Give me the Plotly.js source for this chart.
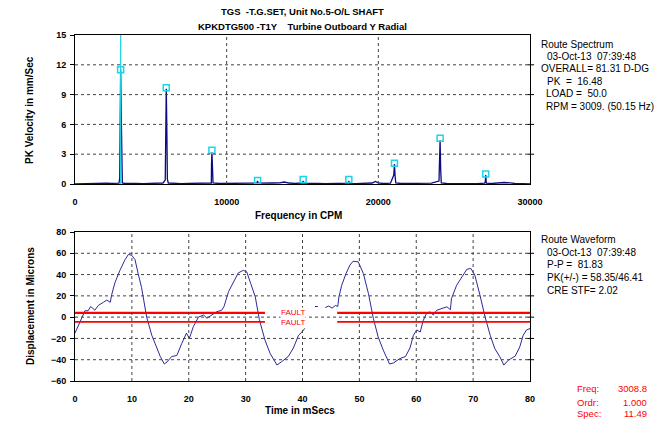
<!DOCTYPE html>
<html>
<head>
<meta charset="utf-8">
<script src="https://cdn.plot.ly/plotly-3.0.1.min.js"></script>
<style>html,body{margin:0;padding:0;background:#fff;}#chart{width:668px;height:421px;}</style>
</head>
<body>
<div id="chart"></div>
<script>
// ---------- Spectrum data (CPM, mm/sec) ----------
const specFreq = [0,300,600,900,1200,1500,1800,2100,2400,2700,2900,2950,2975,3009,3045,3080,3120,3300,3600,4000,4500,5000,5500,5800,5950,5985,6018,6050,6090,6150,6500,7000,7500,8000,8500,8990,9000,9027,9060,9100,9500,10000,10500,11000,11500,12000,12036,12070,12500,13000,13500,13800,14100,14500,15000,15045,15080,15500,16000,16500,17000,17500,18000,18054,18090,18500,19000,19600,19800,20000,20300,20800,21020,21063,21100,21150,21500,22000,22500,23000,23500,24000,24040,24072,24110,24150,24500,25000,25500,26000,26500,27000,27050,27081,27120,27500,28000,28300,28700,29000,29500,30000];
const specAmp  = [0,0.02,0.03,0.02,0.05,0.08,0.1,0.08,0.06,0.05,0.08,0.6,4.5,11.49,7.5,2.6,0.1,0.05,0.08,0.06,0.04,0.05,0.08,0.1,0.4,8.5,9.6,6.2,0.5,0.1,0.05,0.04,0.06,0.05,0.08,0.1,1.9,3.2,1.9,0.1,0.05,0.04,0.06,0.05,0.08,0.1,0.3,0.08,0.06,0.1,0.12,0.2,0.1,0.06,0.1,0.3,0.08,0.04,0.05,0.03,0.06,0.04,0.08,0.3,0.06,0.04,0.05,0.1,0.25,0.12,0.05,0.08,0.9,2.0,0.9,0.1,0.05,0.04,0.06,0.05,0.08,0.3,2.0,4.4,1.5,0.1,0.05,0.04,0.06,0.05,0.04,0.08,0.2,0.9,0.08,0.05,0.12,0.15,0.12,0.05,0.03,0.02];
// harmonic markers
const markFreq = [3009,6018,9027,12036,15045,18054,21063,24072,27081];
const markAmp  = [11.49,9.7,3.4,0.35,0.45,0.45,2.1,4.6,1.0];
const cursorFreq = 3009;

// ---------- Waveform data (mSecs, microns) ----------
const wfTime = [0,0.7,1.75,2.3,2.75,3.5,4.1,5.0,5.6,6.2,6.45,7.0,7.9,8.8,9.4,10.0,10.55,11.1,11.7,12.6,13.5,14.1,15.0,15.7,16.2,17.0,17.9,18.75,19.6,20.1,20.8,21.7,22.6,23.2,24.0,24.9,25.8,26.2,27.0,27.9,28.7,29.6,30.2,30.9,31.7,32.4,33.4,34.3,35.5,36.3,37.5,38.4,39.3,39.9,40.4,41.3,42.2,42.7,43.3,44.0,44.6,45.2,45.8,46.2,46.4,46.9,47.65,48.35,48.9,49.8,50.7,51.6,52.45,53.3,54.2,55.3,56.0,57.1,58.1,58.9,59.5,60.1,60.7,61.2,61.8,62.4,63.0,63.6,64.5,65.4,66.0,66.2,67.1,68.0,68.9,69.6,70.3,71.2,72.1,73.0,73.8,74.7,75.4,76.2,77.4,78.2,78.8,79.4,80];
const wfDisp = [-15,-6,6,6,10,6.5,11,14,16,14,21,32,44,54,59,58,54,41,28,0,-17,-25,-37,-44,-42,-37,-36,-25,-15,-20,-9,0,2,-1,2,5,6.5,10,24,33,41.5,44,42.5,31.5,19,-2,-21.5,-34,-45,-42,-37,-29,-17,-14,-10.5,null,10,10,null,9,10.5,8.5,11,10,19,30,41,49,52.5,52,41,22,-1,-18.5,-31,-44,-43,-39,-37,-29,-17,-12,-14,-3.5,3.5,5,2,6.5,8,9.7,7,17.5,30,38,45,45.7,39.5,20.7,0.3,-17,-29.4,-37.3,-45,-40.4,-36.6,-28,-17,-12,-10.7];

// fault limit bands
const faultLevels = [4.0,-4.4];
const faultSegA = [0,33.4];
const faultSegB = [46.1,80];
const faultText = "FAULT";

// ---------- tick values ----------
const specXTicks = [0,10000,20000,30000];
const specYTicks = [0,3,6,9,12,15];
const wfXTicks = [0,10,20,30,40,50,60,70,80];
const wfYTicks = [-60,-40,-20,0,20,40,60,80];

// ---------- texts ----------
const titleLines = ["TGS  -T.G.SET, Unit No.5-O/L SHAFT","KPKDTG500 -T1Y    Turbine Outboard Y Radial"];
const specInfo = ["Route Spectrum","03-Oct-13  07:39:48","OVERALL= 81.31 D-DG","PK  =  16.48","LOAD =  50.0","RPM = 3009. (50.15 Hz)"];
const waveInfo = ["Route Waveform","03-Oct-13  07:39:48","P-P =  81.83","PK(+/-) = 58.35/46.41","CRE STF= 2.02"];
const cursorLabels = ["Freq:","Ordr:","Spec:"];
const cursorValues = ["3008.8","1.000","11.49"];

// ---------- geometry helpers ----------
const L=75,R=530,T=35,B=381;
const px = x => (x-L)/(R-L);
const py = y => (B-y)/(B-T);

const FONT = "Liberation Sans, Arial, sans-serif";
const gridLine = {color:'#444',width:1,dash:'dot'};

const traces = [
  {x:specFreq,y:specAmp,type:'scatter',mode:'lines',line:{color:'#0a0a85',width:1.3},xaxis:'x',yaxis:'y'},
  {x:markFreq,y:markAmp,type:'scatter',mode:'markers',marker:{symbol:'square-open',size:6,color:'#1fd3e8',line:{width:1.5,color:'#1fd3e8'}},xaxis:'x',yaxis:'y'},
  {x:wfTime,y:wfDisp,type:'scatter',mode:'lines',line:{color:'#2a2a9a',width:1},connectgaps:false,xaxis:'x2',yaxis:'y2'},
  {x:faultSegA,y:[faultLevels[0],faultLevels[0]],type:'scatter',mode:'lines',line:{color:'#ff0000',width:2.2},xaxis:'x2',yaxis:'y2'},
  {x:faultSegA,y:[faultLevels[1],faultLevels[1]],type:'scatter',mode:'lines',line:{color:'#ff0000',width:1.8},xaxis:'x2',yaxis:'y2'},
  {x:faultSegB,y:[faultLevels[0],faultLevels[0]],type:'scatter',mode:'lines',line:{color:'#ff0000',width:2.2},xaxis:'x2',yaxis:'y2'},
  {x:faultSegB,y:[faultLevels[1],faultLevels[1]],type:'scatter',mode:'lines',line:{color:'#ff0000',width:1.8},xaxis:'x2',yaxis:'y2'}
];

const tickFont = {family:FONT,size:9,color:'#000',weight:'bold'};
const axCommon = {showline:true,linecolor:'#000',linewidth:1,mirror:true,zeroline:false,showgrid:false,
  tickfont:tickFont,fixedrange:true};

// dotted grid and right-hand tick marks, placed through the axes at the interior tick values
const shapes = [];
const inner = a => a.slice(1,-1);
function vGrid(vals,xr,yr){ vals.forEach(v=>shapes.push({type:'line',layer:'above',xref:xr,yref:yr+' domain',x0:v,x1:v,y0:0,y1:1,line:gridLine})); }
function hGrid(vals,xr,yr){ vals.forEach(v=>shapes.push({type:'line',layer:'above',xref:xr+' domain',yref:yr,x0:0,x1:1,y0:v,y1:v,line:gridLine})); }
function rTicks(vals,xr,yr){ vals.forEach(v=>shapes.push({type:'line',layer:'above',xref:xr+' domain',yref:yr,x0:0.995,x1:1.009,y0:v,y1:v,line:{color:'#000',width:1}})); }
vGrid(inner(specXTicks),'x','y'); hGrid(inner(specYTicks),'x','y'); rTicks(inner(specYTicks),'x','y');
vGrid(inner(wfXTicks),'x2','y2'); hGrid(inner(wfYTicks),'x2','y2'); rTicks(inner(wfYTicks),'x2','y2');
shapes.push({type:'line',xref:'x',yref:'y',x0:cursorFreq,x1:cursorFreq,y0:0,y1:15,line:{color:'#1fd3e8',width:1.2},layer:'above'});

const annotations = [];
titleLines.forEach((t,i)=>annotations.push({text:t,xref:'paper',yref:'paper',x:px(302),y:py(12+i*14.5),xanchor:'center',yanchor:'middle',showarrow:false,font:{family:FONT,size:9.5,color:'#000',weight:'bold'}}));
annotations.push({text:'PK Velocity in mm/Sec',xref:'paper',yref:'paper',x:px(30),y:py(110),textangle:-90,xanchor:'center',yanchor:'middle',showarrow:false,font:{family:FONT,size:10,weight:'bold',color:'#000'}});
annotations.push({text:'Displacement in Microns',xref:'paper',yref:'paper',x:px(30),y:py(306),textangle:-90,xanchor:'center',yanchor:'middle',showarrow:false,font:{family:FONT,size:10,weight:'bold',color:'#000'}});
annotations.push({text:'Frequency in CPM',xref:'paper',yref:'paper',x:px(298),y:py(215),xanchor:'center',yanchor:'middle',showarrow:false,font:{family:FONT,size:10,weight:'bold',color:'#000'}});
annotations.push({text:'Time in mSecs',xref:'paper',yref:'paper',x:px(300),y:py(411),xanchor:'center',yanchor:'middle',showarrow:false,font:{family:FONT,size:10,weight:'bold',color:'#000'}});
const specY=[44,56,68,81,93.5,106], specX=[539,545,539,545,544,544];
specInfo.forEach((t,i)=>annotations.push({text:t,xref:'paper',yref:'paper',x:px(specX[i]),y:py(specY[i]),xanchor:'left',yanchor:'middle',showarrow:false,font:{family:FONT,size:10,color:'#000'}}));
const waveY=[239.5,252,264,277.5,290], waveX=[539,545,545,545,545];
waveInfo.forEach((t,i)=>annotations.push({text:t,xref:'paper',yref:'paper',x:px(waveX[i]),y:py(waveY[i]),xanchor:'left',yanchor:'middle',showarrow:false,font:{family:FONT,size:10,color:'#000'}}));
const curY=[388.5,402,413.5];
cursorLabels.forEach((t,i)=>{
  annotations.push({text:t,xref:'paper',yref:'paper',x:px(575),y:py(curY[i]),xanchor:'left',yanchor:'middle',showarrow:false,font:{family:FONT,size:9.5,color:'#ff0000'}});
  annotations.push({text:cursorValues[i],xref:'paper',yref:'paper',x:px(649),y:py(curY[i]),xanchor:'right',yanchor:'middle',showarrow:false,font:{family:FONT,size:9.5,color:'#ff0000'}});
});
// both FAULT labels in one text block (two lines), centred between the two limit lines
annotations.push({text:faultText+'<br>'+faultText,xref:'x2',yref:'y2',x:38.3,y:(faultLevels[0]+faultLevels[1])/2,xanchor:'center',yanchor:'middle',showarrow:false,borderpad:0,bgcolor:'#fff',font:{family:FONT,size:8,color:'#ff0000'}});

const layout = {
  width:668,height:421,margin:{l:L,r:668-R,t:T,b:421-B},
  paper_bgcolor:'#fff',plot_bgcolor:'rgba(0,0,0,0)',showlegend:false,
  font:{family:FONT,color:'#000'},
  xaxis:Object.assign({},axCommon,{domain:[0,1],anchor:'y',range:[0,30000],tickvals:specXTicks,ticktext:specXTicks.map(String),ticks:'',ticklabelstandoff:9}),
  yaxis:Object.assign({},axCommon,{domain:[py(184),1],anchor:'x',range:[0,15],tickvals:specYTicks,ticks:'outside',ticklen:4,tickcolor:'#000',ticklabelstandoff:2}),
  xaxis2:Object.assign({},axCommon,{domain:[0,1],anchor:'y2',range:[0,80],tickvals:wfXTicks,ticks:'',ticklabelstandoff:9}),
  yaxis2:Object.assign({},axCommon,{domain:[0,py(232)],anchor:'x2',range:[-60,80],tickvals:wfYTicks,ticks:'outside',ticklen:4,tickcolor:'#000',ticklabelstandoff:2}),
  shapes:shapes,
  annotations:annotations
};

Plotly.newPlot('chart',traces,layout,{staticPlot:true,displayModeBar:false});
</script>
</body>
</html>
